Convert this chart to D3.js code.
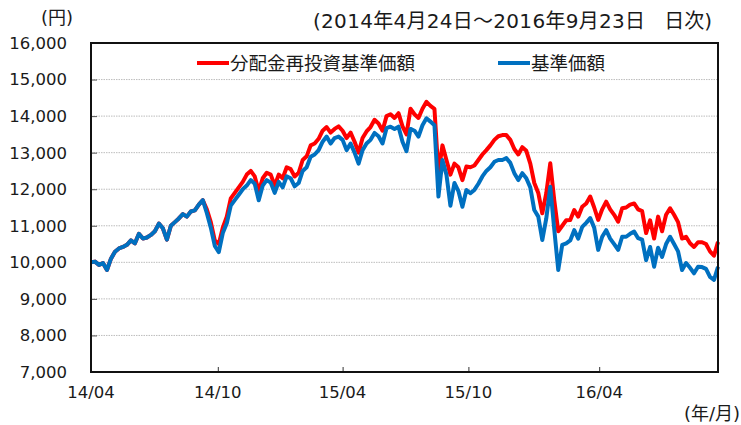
<!DOCTYPE html>
<html>
<head>
<meta charset="utf-8">
<script src="https://cdn.jsdelivr.net/npm/d3@7"></script>
<style>
  body { margin: 0; background: #fff; }
  svg text { font-family: "DejaVu Sans", "Noto Sans CJK JP", sans-serif; fill: #1a1a1a; }
</style>
</head>
<body>
<script>
'use strict';

// y axis ticks (円)
const yTicks = [7000, 8000, 9000, 10000, 11000, 12000, 13000, 14000, 15000, 16000];

// x axis labels and the sample index they sit on
const xLabels = ["14/04", "14/10", "15/04", "15/10", "16/04"];
const xLabelIdx = [0, 31.75, 63, 94.5, 127.25];

// 基準価額 (sampled across 2014/4/24 - 2016/9/23)
const nav = [
  10000, 10020, 9930, 9980, 9790, 10100, 10290, 10380, 10420, 10480,
  10600, 10520, 10780, 10650, 10680, 10750, 10850, 11060, 10930, 10620,
  11000, 11100, 11200, 11320, 11250, 11390, 11420, 11580, 11700, 11350,
  10950, 10450, 10280, 10800, 11070, 11550, 11700, 11850, 12000, 12100,
  12250, 12150, 11700, 12100, 12250, 12180, 11900, 12200, 12050, 12350,
  12300, 12080, 12170, 12500, 12600, 12890, 12950, 13070, 13300, 13440,
  13250, 13400, 13440, 13350, 13070, 13250, 13000, 12700, 13070, 13250,
  13350, 13540, 13450, 13250, 13670, 13710, 13650, 13710, 13300, 13040,
  13650, 13600, 13440, 13750, 13940, 13850, 13750, 11800, 12800, 12400,
  11550, 12170, 11950, 11520, 11980, 11890, 11980, 12150, 12350, 12500,
  12600, 12750, 12800, 12800, 12850, 12720, 12440, 12250, 12440, 12300,
  12050, 11430, 11250, 10610, 11200, 12070, 10900, 9790, 10480, 10520,
  10600, 10880, 10650, 10970, 11080, 11210, 10950, 10340, 10700, 10880,
  10650, 10500, 10340, 10700, 10700, 10780, 10840, 10660, 10620, 10060,
  10420, 9880, 10400, 10150, 10500, 10700, 10500, 10300, 9790, 9980,
  9850, 9700, 9880, 9870, 9820, 9600, 9520, 9880
];

// 分配金再投資基準価額
const navReinvest = [
  10000, 10020, 9930, 9980, 9790, 10100, 10290, 10380, 10420, 10480,
  10600, 10520, 10780, 10650, 10680, 10750, 10850, 11060, 10930, 10620,
  11000, 11100, 11200, 11320, 11250, 11390, 11420, 11580, 11700, 11450,
  11100, 10600, 10500, 10950, 11250, 11750, 11900, 12050, 12200, 12400,
  12500, 12350, 11950, 12300, 12450, 12400, 12100, 12400, 12300, 12600,
  12550, 12350, 12450, 12800, 12900, 13200, 13250, 13380, 13600, 13700,
  13550, 13650, 13720, 13600, 13400, 13550, 13300, 13000, 13400, 13580,
  13700, 13900, 13800, 13600, 14000, 14050, 13950, 14080, 13720, 13500,
  14200, 14050, 13950, 14200, 14390, 14280, 14200, 12440, 13200, 12800,
  12400, 12700, 12600, 12250, 12620, 12600, 12650, 12800, 12950, 13070,
  13200, 13350, 13450, 13480, 13480, 13350, 13100, 12950, 13150, 13050,
  12700, 12170, 11900, 11340, 11890, 12710, 11700, 10850, 11000, 11150,
  11160, 11430, 11250, 11520, 11610, 11800, 11500, 11160, 11450, 11660,
  11450, 11300, 11110, 11480, 11500, 11580, 11610, 11450, 11400, 10800,
  11150, 10650, 11250, 10850, 11300, 11480, 11300, 11100, 10650, 10700,
  10520, 10420, 10550, 10550, 10500, 10300, 10180, 10560
];

const seriesNames = ["分配金再投資基準価額", "基準価額"];
const seriesColors = ["#FF0000", "#0070C0"];

const width = 741, height = 425;
const plot = { left: 91, right: 718, top: 43, bottom: 372 };

const svg = d3.select('body').append('svg')
  .attr('width', width)
  .attr('height', height);

const xScale = d3.scaleLinear()
  .domain([0, nav.length - 1])
  .range([plot.left, plot.right]);

const yScale = d3.scaleLinear()
  .domain([7000, 16000])
  .range([plot.bottom, plot.top]);

// dotted gridlines
svg.append('g')
  .selectAll('line')
  .data(yTicks.filter((d) => d > 7000 && d < 16000))
  .enter()
  .append('line')
    .attr('x1', plot.left)
    .attr('x2', plot.right)
    .attr('y1', (d) => yScale(d))
    .attr('y2', (d) => yScale(d))
    .attr('stroke', '#bdbdbd')
    .attr('stroke-width', 1)
    .attr('stroke-dasharray', '1.5,1');

// y axis: labels on the left, short ticks pointing into the plot
const yAxis = d3.axisRight(yScale)
  .tickValues(yTicks)
  .tickSize(6)
  .tickFormat('');
svg.append('g')
  .attr('transform', `translate(${plot.left}, 0)`)
  .call(yAxis)
  .call((g) => g.select('.domain').remove())
  .call((g) => g.selectAll('line').attr('stroke', '#555'));

svg.append('g')
  .selectAll('text')
  .data(yTicks)
  .enter()
  .append('text')
    .attr('x', 67)
    .attr('y', (d) => yScale(d))
    .attr('dy', '0.36em')
    .attr('text-anchor', 'end')
    .style('font-size', '16.5px')
    .text((d) => d3.format(',')(d));

// x axis: short ticks pointing up, labels below
const xAxis = d3.axisTop(xScale)
  .tickValues(xLabelIdx)
  .tickSize(5)
  .tickFormat('');
svg.append('g')
  .attr('transform', `translate(0, ${plot.bottom})`)
  .call(xAxis)
  .call((g) => g.select('.domain').remove())
  .call((g) => g.selectAll('line').attr('stroke', '#333'));

svg.append('g')
  .selectAll('text')
  .data(xLabelIdx)
  .enter()
  .append('text')
    .attr('x', (d) => xScale(d))
    .attr('y', 398)
    .attr('text-anchor', 'middle')
    .style('font-size', '16.5px')
    .text((d, i) => xLabels[i]);

// lines (red first so blue sits on top)
const line = d3.line()
  .x((d, i) => xScale(i))
  .y((d) => yScale(d));

[navReinvest, nav].forEach((values, k) => {
  svg.append('path')
    .datum(values)
    .attr('fill', 'none')
    .attr('stroke', seriesColors[k])
    .attr('stroke-width', 4)
    .attr('stroke-linejoin', 'round')
    .attr('d', line);
});

// plot frame
svg.append('rect')
  .attr('x', plot.left)
  .attr('y', plot.top)
  .attr('width', plot.right - plot.left)
  .attr('height', plot.bottom - plot.top)
  .attr('fill', 'none')
  .attr('stroke', '#111')
  .attr('stroke-width', 2);

// legend
const legendX = [197, 498];
const legend = svg.append('g');
seriesNames.forEach((name, k) => {
  legend.append('line')
    .attr('x1', legendX[k])
    .attr('x2', legendX[k] + 32)
    .attr('y1', 63)
    .attr('y2', 63)
    .attr('stroke', seriesColors[k])
    .attr('stroke-width', 4);
  legend.append('text')
    .attr('x', legendX[k] + 33)
    .attr('y', 70)
    .style('font-size', '18.5px')
    .text(name);
});

// period note, split so the gap before 日次 matches
svg.append('text')
  .attr('x', 313)
  .attr('y', 28)
  .style('font-size', '20px')
  .attr('textLength', 332)
  .attr('lengthAdjust', 'spacing')
  .text('(2014年4月24日～2016年9月23日');

svg.append('text')
  .attr('x', 712)
  .attr('y', 28)
  .attr('text-anchor', 'end')
  .style('font-size', '20px')
  .text('日次)');

svg.append('text')
  .attr('x', 73)
  .attr('y', 24)
  .attr('text-anchor', 'end')
  .style('font-size', '18px')
  .text('(円)');

svg.append('text')
  .attr('x', 740)
  .attr('y', 420)
  .attr('text-anchor', 'end')
  .style('font-size', '18px')
  .text('(年/月)');
</script>
</body>
</html>
